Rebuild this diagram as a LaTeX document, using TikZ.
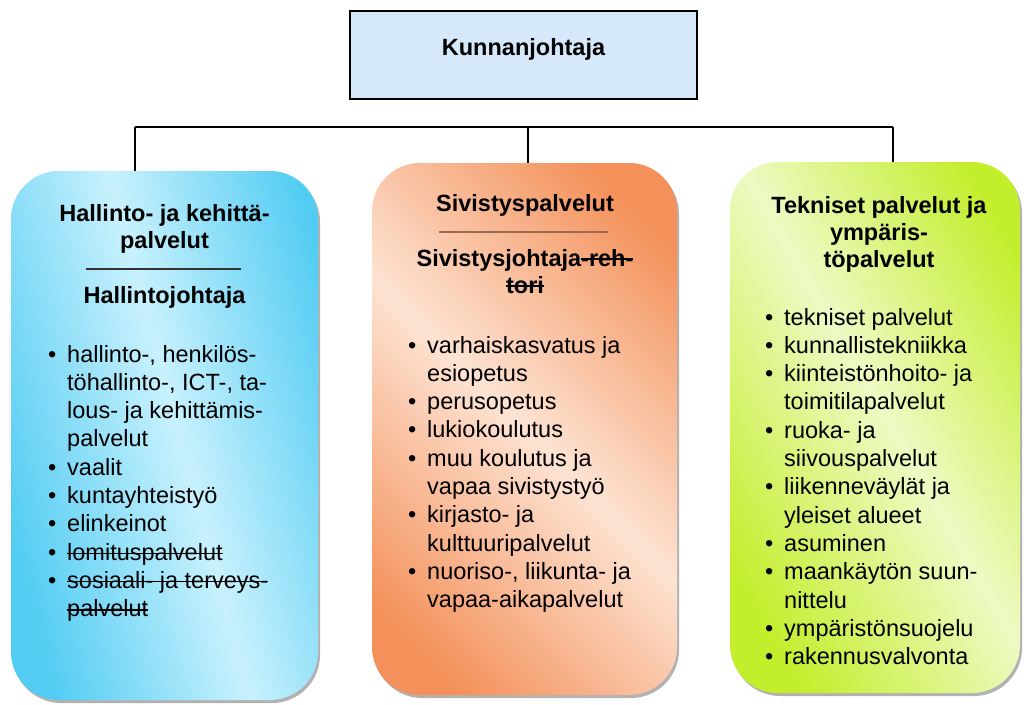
\documentclass[tikz,border=0pt]{standalone}
\usepackage{fontspec}
\setmainfont{Liberation Sans}
\usetikzlibrary{shadows}

\definecolor{bluedeep}{HTML}{52CCF3}
\definecolor{bluelight}{HTML}{C8F1FD}
\definecolor{orangedeep}{HTML}{F4915A}
\definecolor{orangelight}{HTML}{FDE3D3}
\definecolor{greendeep}{HTML}{C3EE2C}
\definecolor{greenlight}{HTML}{EEFAC4}
\definecolor{topfill}{HTML}{D6E9FB}
\definecolor{rulebrown}{HTML}{9C6B4F}

\pgfdeclarehorizontalshading{blueshade}{100bp}{color(0bp)=(bluedeep); color(25bp)=(bluedeep); color(52bp)=(bluelight); color(78bp)=(bluedeep); color(100bp)=(bluedeep)}
\pgfdeclarehorizontalshading{orangeshade}{100bp}{color(0bp)=(orangedeep); color(22bp)=(orangedeep); color(50bp)=(orangelight); color(78bp)=(orangedeep); color(100bp)=(orangedeep)}
\pgfdeclarehorizontalshading{greenshade}{100bp}{color(0bp)=(greendeep); color(24bp)=(greendeep); color(52bp)=(greenlight); color(78bp)=(greendeep); color(100bp)=(greendeep)}

\newcommand{\bitem}[1]{\makebox[19pt][l]{\textbullet}#1}
\newcommand{\bcont}[1]{\hspace*{19pt}#1}
\newcommand{\strk}[1]{\setbox0\hbox{#1}\rlap{\rule[0.26em]{\wd0}{1.5pt}}\box0}

\begin{document}
\begin{tikzpicture}[x=1pt,y=-1pt,
  font=\fontsize{23.5}{28.3}\selectfont,
  wire/.style={line width=1.3pt,black},
  topbox/.style={draw=black,line width=1.5pt,fill=topfill,minimum width=347,minimum height=88,
    text height=12pt,text depth=12pt,font=\fontsize{23.5}{28.3}\selectfont\bfseries},
  dept/.style={shade,rounded corners=48,inner sep=0pt,
    drop shadow={shadow xshift=2pt,shadow yshift=-3pt,fill=black,opacity=.3}},
  head/.style={align=center,anchor=base,inner sep=0pt,font=\fontsize{23.5}{27}\selectfont\bfseries},
  items/.style={align=left,anchor=base west,inner sep=0pt}]
  \useasboundingbox (0,0) rectangle (1024,704);

  % Top
  \node[topbox] (kj) at (523.5,55) {Kunnanjohtaja};

  % Departments
  \node[dept,shading=blueshade,shading angle=15,minimum width=307,minimum height=529] (hk) at (164.5,435.5) {};
  \node[dept,shading=orangeshade,shading angle=45,minimum width=305,minimum height=532] (sv) at (524.5,429) {};
  \node[dept,shading=greenshade,shading angle=30,minimum width=290,minimum height=531] (tp) at (875,427.5) {};

  % Connector bus
  \coordinate (busL) at (135,127);
  \coordinate (busM) at (528,127);
  \coordinate (busR) at (893,127);
  \draw[wire] (busL) -- (busR);
  \foreach \c/\b in {busL/hk, busM/sv, busR/tp}
    \draw[wire] (\c) -- (\c |- \b.north);

  % Hallinto- ja kehittämispalvelut (base = last line)
  \node[head] (hkh) at (164.5,248) {Hallinto- ja kehittä-\\palvelut};
  \draw[line width=1.2pt,black!80] (86,269) -- (241,269);
  \node[head] (hkj) at (164.5,303) {Hallintojohtaja};
  \node[items] (hkl) at (48,616.7) {\bitem{hallinto-, henkilös-}\\
    \bcont{töhallinto-, ICT-, ta-}\\
    \bcont{lous- ja kehittämis-}\\
    \bcont{palvelut}\\
    \bitem{vaalit}\\
    \bitem{kuntayhteistyö}\\
    \bitem{elinkeinot}\\
    \bitem{\strk{lomituspalvelut}}\\
    \bitem{\strk{sosiaali- ja terveys-}}\\
    \bcont{\strk{palvelut}}};

  % Sivistyspalvelut
  \node[head] (svh) at (525,211) {Sivistyspalvelut};
  \draw[line width=1.3pt,rulebrown] (439,232) -- (608,232);
  \node[head] (svj) at (525,293) {Sivistysjohtaja\strk{-reh-}\\\strk{tori}};
  \node[items] (svl) at (408,607.7) {\bitem{varhaiskasvatus ja}\\
    \bcont{esiopetus}\\
    \bitem{perusopetus}\\
    \bitem{lukiokoulutus}\\
    \bitem{muu koulutus ja}\\
    \bcont{vapaa sivistystyö}\\
    \bitem{kirjasto- ja}\\
    \bcont{kulttuuripalvelut}\\
    \bitem{nuoriso-, liikunta- ja}\\
    \bcont{vapaa-aikapalvelut}};

  % Tekniset palvelut
  \node[head] (tph) at (879,267) {Tekniset palvelut ja\\ympäris-\\töpalvelut};
  \node[items] (tpl) at (765,664.6) {\bitem{tekniset palvelut}\\
    \bitem{kunnallistekniikka}\\
    \bitem{kiinteistönhoito- ja}\\
    \bcont{toimitilapalvelut}\\
    \bitem{ruoka- ja}\\
    \bcont{siivouspalvelut}\\
    \bitem{liikenneväylät ja}\\
    \bcont{yleiset alueet}\\
    \bitem{asuminen}\\
    \bitem{maankäytön suun-}\\
    \bcont{nittelu}\\
    \bitem{ympäristönsuojelu}\\
    \bitem{rakennusvalvonta}};
\end{tikzpicture}
\end{document}
